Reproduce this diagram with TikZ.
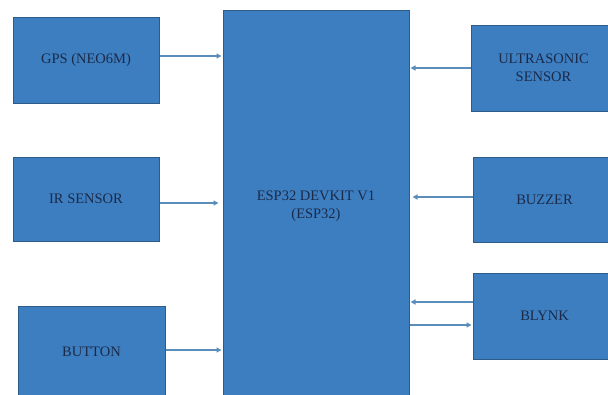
\documentclass[tikz,border=0pt]{standalone}
\usepackage{fontspec}
\setmainfont{Liberation Serif}
\usetikzlibrary{arrows.meta}
\definecolor{boxfill}{HTML}{3D7EC1}
\definecolor{boxline}{HTML}{2E5C8A}
\definecolor{txt}{HTML}{1B2A48}
\definecolor{arr}{HTML}{5A8DBA}
\begin{document}
\begin{tikzpicture}[x=1pt,y=-1pt,
  box/.style={draw=boxline, line width=1pt, fill=boxfill, text=txt, align=center,
    font=\fontsize{14.5}{18}\selectfont, inner sep=0pt},
  conn/.style={draw=arr, line width=1.3pt, -{Triangle[length=5pt,width=5pt]}, shorten >=1pt}]
\useasboundingbox (0,0) rectangle (608,394);
\clip (0,0) rectangle (608,394);
\fill[white] (0,0) rectangle (608,394);
% ESP32
\node[box, minimum width=186pt, minimum height=392pt] (esp) at (316,206) {};
\node[text=txt, align=center, font=\fontsize{14.5}{18.5}\selectfont] (esptext) at (316,206) {ESP32 DEVKIT V1\\(ESP32)};
% left
\node[box, minimum width=146pt, minimum height=86pt] (gps) at (86,60) {GPS (NEO6M)};
\node[box, minimum width=146pt, minimum height=84pt] (ir) at (86,199) {IR SENSOR};
\node[box, minimum width=147pt, minimum height=92pt] (btn) at (91.5,352) {BUTTON};
% right
\node[box, minimum width=145pt, minimum height=86pt] (ultra) at (543.5,68) {ULTRASONIC\\SENSOR};
\node[box, minimum width=143pt, minimum height=85pt] (buzz) at (544.5,199.5) {BUZZER};
\node[box, minimum width=143pt, minimum height=86pt] (blynk) at (544.5,316) {BLYNK};
% arrows
\draw[conn] ([yshift=4pt]gps.east) -- ([yshift=4pt]gps.east -| esp.west);
\draw[conn, shorten >=4pt] ([yshift=-4pt]ir.east) -- ([yshift=-4pt]ir.east -| esp.west);
\draw[conn] ([yshift=2pt]btn.east) -- ([yshift=2pt]btn.east -| esp.west);
\draw[conn] (ultra.west) -- (ultra.west -| esp.east);
\draw[conn, shorten >=3pt] ([yshift=2.5pt]buzz.west) -- ([yshift=2.5pt]buzz.west -| esp.east);
\draw[conn] ([yshift=14pt]blynk.west) -- ([yshift=14pt]blynk.west -| esp.east);
\draw[conn] ([yshift=-9pt]blynk.west -| esp.east) -- ([yshift=-9pt]blynk.west);
\end{tikzpicture}
\end{document}
